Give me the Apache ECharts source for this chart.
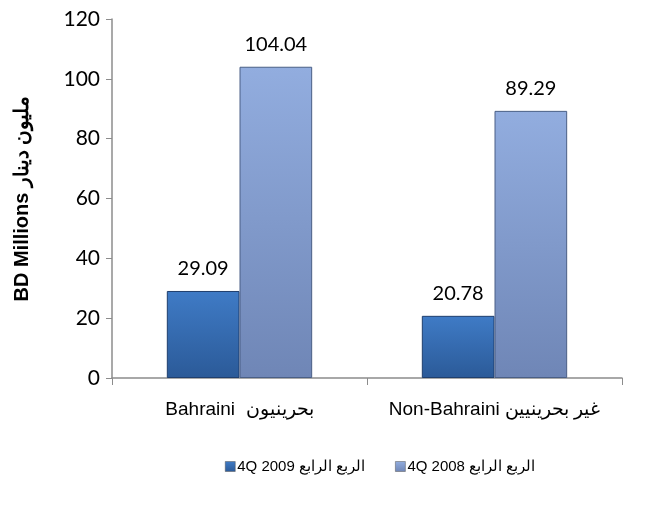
<!DOCTYPE html>
<html>
<head>
<meta charset="utf-8">
<script src="https://cdn.jsdelivr.net/npm/echarts@6/dist/echarts.min.js"></script>
<style>
  html, body { margin: 0; padding: 0; background: #fff; }
  #chart { width: 654px; height: 506px; }
</style>
</head>
<body>
<div id="chart"></div>
<script>
  // data
  var categories = ['Bahraini  بحرينيون', 'Non-Bahraini غير بحرينيين'];
  var seriesNames = ['4Q 2009 الربع الرابع', '4Q 2008 الربع الرابع'];
  var values2009 = [29.09, 20.78];
  var values2008 = [104.04, 89.29];
  var yTicks = [0, 20, 40, 60, 80, 100, 120];

  function grad(top, bottom) {
    return new echarts.graphic.LinearGradient(0, 0, 0, 1, [
      { offset: 0, color: top },
      { offset: 1, color: bottom }
    ]);
  }

  var labelStyle = {
    show: true,
    position: 'top',
    distance: 12,
    fontFamily: 'Lato, sans-serif',
    fontSize: 20,
    color: '#000',
    formatter: function (p) { return p.value.toFixed(2); }
  };

  var chart = echarts.init(document.getElementById('chart'));
  chart.setOption({
    animation: false,
    grid: { left: 112, right: 32, top: 19, bottom: 128 },
    legend: {
      left: 220,
      top: 454,
      itemWidth: 10,
      itemHeight: 10,
      itemGap: 30,
      itemStyle: { borderColor: '#555', borderWidth: 0.5 },
      icon: 'rect',
      textStyle: { fontFamily: 'Liberation Sans, Arial, sans-serif', fontSize: 15, color: '#000', padding: [0, 0, 0, -3] },
      data: seriesNames
    },
    xAxis: {
      type: 'category',
      data: categories,
      axisLine: { lineStyle: { color: '#8c8c8c', width: 1.5 } },
      axisTick: { show: true, length: 7, lineStyle: { color: '#8c8c8c' } },
      axisLabel: {
        interval: 0,
        hideOverlap: false,
        margin: 22,
        fontFamily: 'Liberation Sans, Arial, sans-serif',
        fontSize: 19,
        color: '#000'
      }
    },
    yAxis: {
      type: 'value',
      min: yTicks[0],
      max: yTicks[yTicks.length - 1],
      interval: 20,
      name: 'BD Millions مليون دينار',
      nameLocation: 'middle',
      nameGap: 80,
      nameRotate: 90,
      nameTextStyle: {
        fontFamily: 'Liberation Sans, Arial, sans-serif',
        fontWeight: 'bold',
        fontSize: 20,
        color: '#000'
      },
      axisLine: { show: true, lineStyle: { color: '#8c8c8c', width: 1.5 } },
      axisTick: { show: true, length: 6, lineStyle: { color: '#8c8c8c' } },
      splitLine: { show: false },
      axisLabel: {
        margin: 12,
        fontFamily: 'Lato, sans-serif',
        fontSize: 21,
        color: '#000'
      }
    },
    series: [
      {
        name: seriesNames[0],
        type: 'bar',
        data: values2009,
        barGap: '0%',
        barCategoryGap: '43%',
        itemStyle: {
          color: grad('#3f7bc6', '#2b5a98'),
          borderColor: '#1f3f6e',
          borderWidth: 1
        },
        label: labelStyle
      },
      {
        name: seriesNames[1],
        type: 'bar',
        data: values2008,
        itemStyle: {
          color: grad('#92addf', '#6f86b6'),
          borderColor: '#4a5f86',
          borderWidth: 1
        },
        label: labelStyle
      }
    ]
  });
</script>
</body>
</html>
